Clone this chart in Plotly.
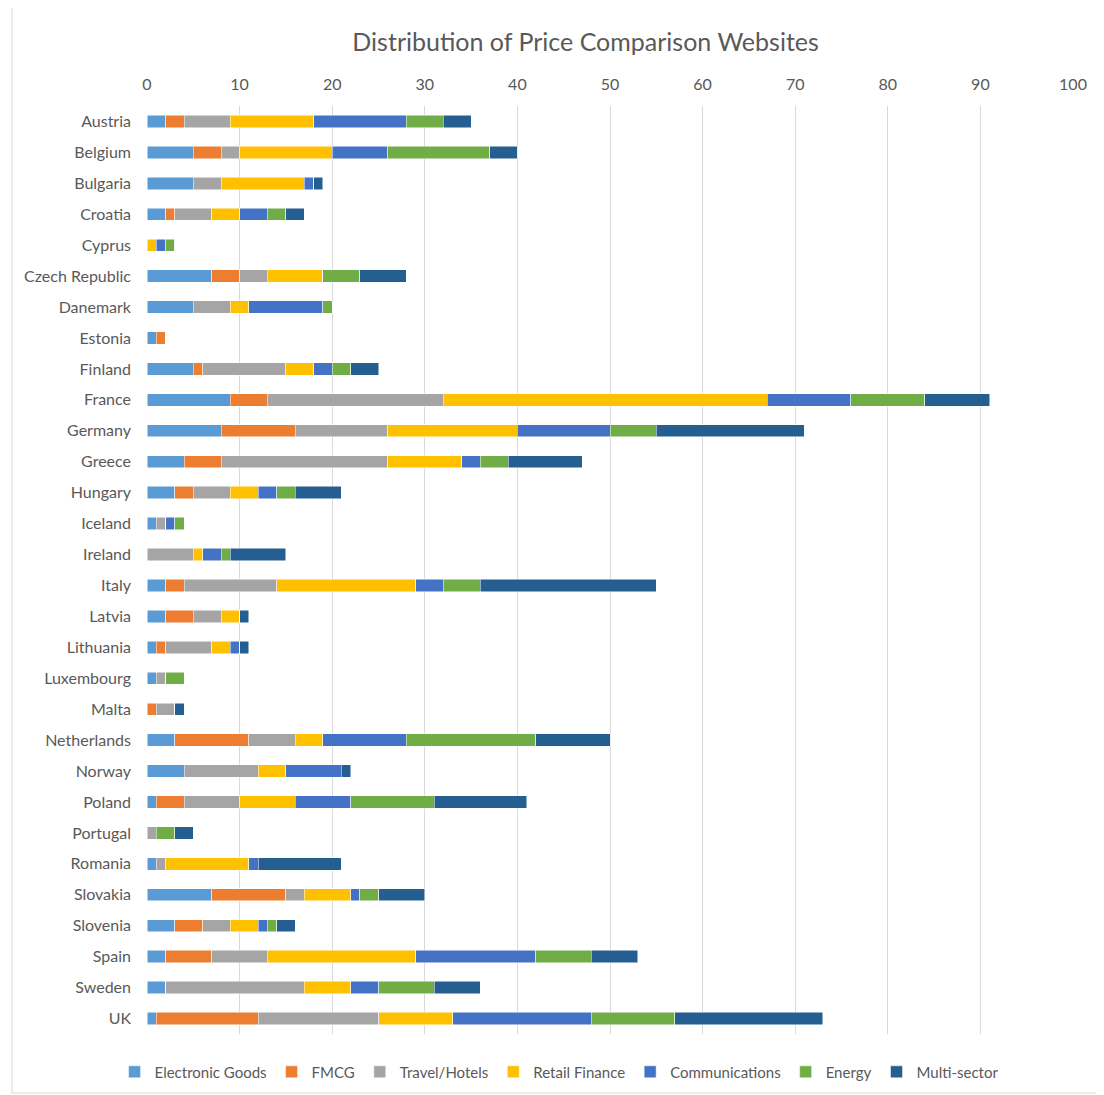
import plotly.graph_objects as go

countries = ["Austria", "Belgium", "Bulgaria", "Croatia", "Cyprus", "Czech Republic", "Danemark",
             "Estonia", "Finland", "France", "Germany", "Greece", "Hungary", "Iceland", "Ireland",
             "Italy", "Latvia", "Lithuania", "Luxembourg", "Malta", "Netherlands", "Norway",
             "Poland", "Portugal", "Romania", "Slovakia", "Slovenia", "Spain", "Sweden", "UK"]

electronic_goods = [2, 5, 5, 2, 0, 7, 5, 1, 5, 9, 8, 4, 3, 1, 0, 2, 2, 1, 1, 0, 3, 4, 1, 0, 1, 7, 3, 2, 2, 1]
fmcg =             [2, 3, 0, 1, 0, 3, 0, 1, 1, 4, 8, 4, 2, 0, 0, 2, 3, 1, 0, 1, 8, 0, 3, 0, 0, 8, 3, 5, 0, 11]
travel_hotels =    [5, 2, 3, 4, 0, 3, 4, 0, 9, 19, 10, 18, 4, 1, 5, 10, 3, 5, 1, 2, 5, 8, 6, 1, 1, 2, 3, 6, 15, 13]
retail_finance =   [9, 10, 9, 3, 1, 6, 2, 0, 3, 35, 14, 8, 3, 0, 1, 15, 2, 2, 0, 0, 3, 3, 6, 0, 9, 5, 3, 16, 5, 8]
communications =   [10, 6, 1, 3, 1, 0, 8, 0, 2, 9, 10, 2, 2, 1, 2, 3, 0, 1, 0, 0, 9, 6, 6, 0, 1, 1, 1, 13, 3, 15]
energy =           [4, 11, 0, 2, 1, 4, 1, 0, 2, 8, 5, 3, 2, 1, 1, 4, 0, 0, 2, 0, 14, 0, 9, 2, 0, 2, 1, 6, 6, 9]
multi_sector =     [3, 3, 1, 2, 0, 5, 0, 0, 3, 7, 16, 8, 5, 0, 6, 19, 1, 1, 0, 1, 8, 1, 10, 2, 9, 5, 2, 5, 5, 16]

series = [
    ("Electronic Goods", electronic_goods, "#5B9BD5"),
    ("FMCG", fmcg, "#ED7D31"),
    ("Travel/Hotels", travel_hotels, "#A5A5A5"),
    ("Retail Finance", retail_finance, "#FFC000"),
    ("Communications", communications, "#4472C4"),
    ("Energy", energy, "#70AD47"),
    ("Multi-sector", multi_sector, "#255E91"),
]

fig = go.Figure()
for name, vals, color in series:
    fig.add_trace(go.Bar(
        y=countries, x=vals, name=name, orientation="h",
        marker=dict(color=color, line=dict(color="white", width=0.5)),
    ))

text_color = "#595959"
# the page adds an 8px body margin, so the figure is shifted by 8px
fig.update_layout(
    barmode="stack",
    bargap=0.6,
    width=1096, height=1096,
    margin=dict(l=139, r=31, t=98, b=70),
    paper_bgcolor="white",
    plot_bgcolor="white",
    font=dict(family="Lato, Open Sans, sans-serif", size=16, color=text_color),
    title=dict(text="Distribution of Price Comparison Websites", x=0.527, xanchor="center",
               y=0.969, yanchor="middle", font=dict(size=25, color=text_color)),
    legend=dict(orientation="h", x=0.445, xanchor="center", y=-0.041, yanchor="middle",
                font=dict(size=15, color=text_color), traceorder="normal", itemwidth=30),
    shapes=[dict(type="rect", xref="paper", yref="paper", x0=-0.1458, x1=1.1, y0=-0.0636, y1=1.1067,
                 line=dict(color="#d9d9d9", width=1), layer="below")],
)
fig.update_xaxes(side="top", range=[0, 100], dtick=10, showgrid=True, gridcolor="#d9d9d9",
                 zeroline=False, showline=False, ticks="", ticklabelstandoff=12,
                 tickfont=dict(size=16, color=text_color))
fig.update_yaxes(autorange="reversed", showgrid=False, ticks="", showline=False,
                 ticklabelstandoff=15, tickfont=dict(size=16, color=text_color))

fig.write_html("out.html")
